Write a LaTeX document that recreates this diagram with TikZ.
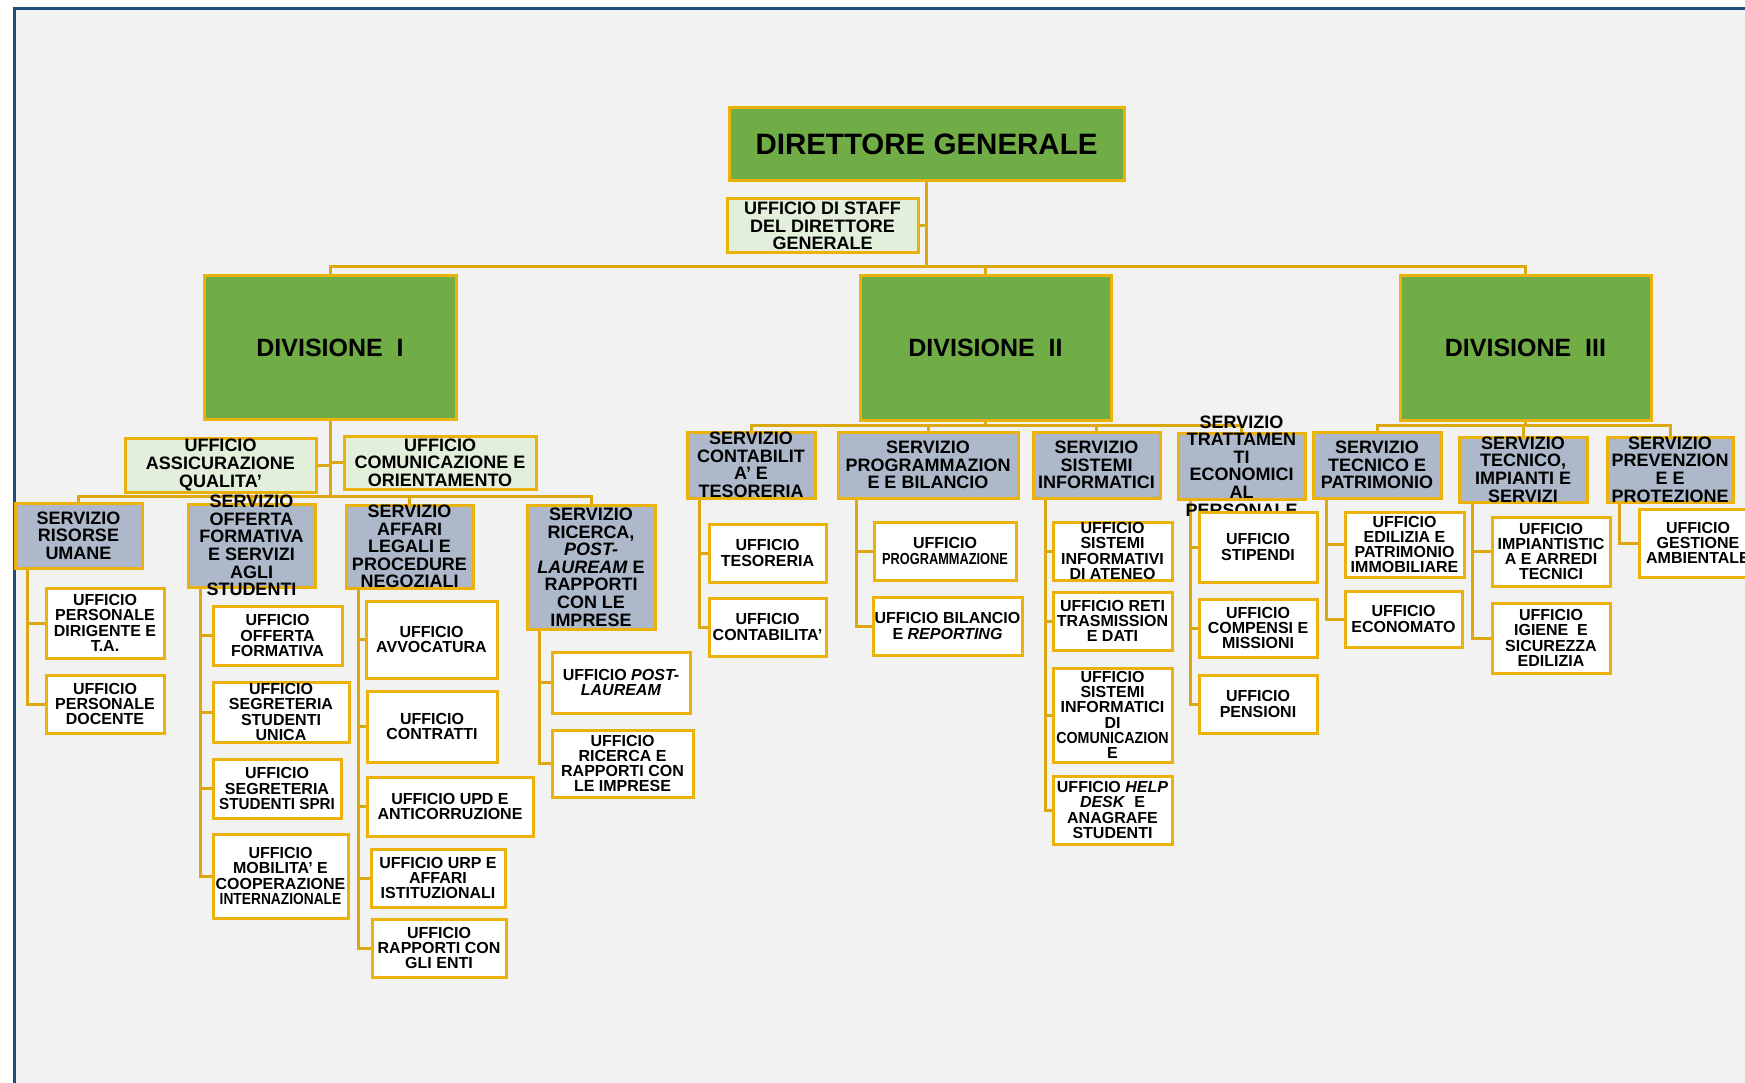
\documentclass[tikz,border=0pt]{standalone}
\usepackage{fontspec}
\setmainfont{Liberation Sans}
\usetikzlibrary{calc}
\definecolor{bgc}{HTML}{F2F2F2}
\definecolor{frameblue}{HTML}{1F4E79}
\definecolor{goldc}{HTML}{EAB20A}
\definecolor{goldl}{HTML}{DCA812}
\definecolor{grn}{HTML}{70AD47}
\definecolor{lgrn}{HTML}{E2EFDA}
\definecolor{gblue}{HTML}{ADB9CA}
\pgfdeclarelayer{back}
\pgfdeclarelayer{lines}
\pgfsetlayers{back,lines,main}
\tikzset{
 boxbase/.style={draw=goldc, line width=3pt, inner sep=0pt, outer sep=0pt, rectangle},
 divbox/.style={boxbase, fill=grn},
 servbox/.style={boxbase, fill=gblue},
 uffbox/.style={boxbase, fill=white},
 lgbox/.style={boxbase, fill=lgrn},
 tbase/.style={inner sep=0pt, align=center, text=black},
 tdg/.style={tbase, font=\bfseries\fontsize{29.5}{31}\selectfont},
 tdiv/.style={tbase, font=\bfseries\fontsize{25}{27}\selectfont},
 tserv/.style={tbase, font=\bfseries\fontsize{18}{17.6}\selectfont},
 tuff/.style={tbase, font=\bfseries\fontsize{16}{15.3}\selectfont},
 conn/.style={draw=goldl, line width=3pt},
}
\newcommand\obox[8]{%
 \node[#2, minimum width={(#6)-(#4)}, minimum height={(#7)-(#5)}] (#1) at ({((#4)+(#6))/2},{((#5)+(#7))/2}) {};
 \node[#3] (#1t) at (#1.center) {#8};
}
\begin{document}
\begin{tikzpicture}[x=1pt,y=-1pt]
\useasboundingbox (0,0) rectangle (1745,1083);
\begin{pgfonlayer}{back}
\fill[white] (0,0) rectangle (1745,1083);
\fill[bgc] (14,9) rectangle (1745,1083);
\draw[frameblue, line width=3pt] (14,1083) -- (14,9) -- (1745,9);
\end{pgfonlayer}

% top level
\obox{dg}{divbox}{tdg}{729}{108}{1124}{181}{DIRETTORE GENERALE}
\obox{staff}{lgbox}{tserv}{727}{199}{918}{253}{UFFICIO DI STAFF\\DEL DIRETTORE\\GENERALE}
\obox{div1}{divbox}{tdiv}{204}{276}{456}{419}{DIVISIONE\ \ I}
\obox{div2}{divbox}{tdiv}{860}{276}{1111}{420}{DIVISIONE\ \ II}
\obox{div3}{divbox}{tdiv}{1400}{276}{1651}{420}{DIVISIONE\ \ III}

% Division I
\obox{uaq}{lgbox}{tserv}{125}{438}{316}{492}{UFFICIO\\ASSICURAZIONE\\QUALITA'}
\obox{uco}{lgbox}{tserv}{344}{436}{536}{489}{UFFICIO\\COMUNICAZIONE E\\ORIENTAMENTO}

\obox{sru}{servbox}{tserv}{15}{503}{142}{568}{SERVIZIO\\RISORSE\\UMANE}
\obox{updir}{uffbox}{tuff}{46}{588}{164}{658}{UFFICIO\\PERSONALE\\DIRIGENTE E\\T.A.}
\obox{updoc}{uffbox}{tuff}{46}{675}{164}{733}{UFFICIO\\PERSONALE\\DOCENTE}

\obox{sof}{servbox}{tserv}{188}{504}{315}{587}{SERVIZIO\\OFFERTA\\FORMATIVA\\E SERVIZI\\AGLI\\STUDENTI}
\obox{uof}{uffbox}{tuff}{213}{606}{342}{665}{UFFICIO\\OFFERTA\\FORMATIVA}
\obox{ussu}{uffbox}{tuff}{213}{682}{349}{742}{UFFICIO\\SEGRETERIA\\STUDENTI\\UNICA}
\obox{usss}{uffbox}{tuff}{213}{759}{341}{818}{UFFICIO\\SEGRETERIA\\\scalebox{0.95}[1]{STUDENTI SPRI}}
\obox{umob}{uffbox}{tuff}{213}{834}{348}{918}{UFFICIO\\MOBILITA' E\\COOPERAZIONE\\\scalebox{0.86}[1]{INTERNAZIONALE}}

\obox{sal}{servbox}{tserv}{346}{505}{473}{588}{SERVIZIO\\AFFARI\\LEGALI E\\PROCEDURE\\NEGOZIALI}
\obox{uavv}{uffbox}{tuff}{366}{601}{497}{678}{UFFICIO\\AVVOCATURA}
\obox{ucon}{uffbox}{tuff}{367}{691}{497}{762}{UFFICIO\\CONTRATTI}
\obox{uupd}{uffbox}{tuff}{367}{777}{533}{836}{UFFICIO UPD E\\ANTICORRUZIONE}
\obox{uurp}{uffbox}{tuff}{371}{849}{505}{907}{UFFICIO URP E\\AFFARI\\ISTITUZIONALI}
\obox{uren}{uffbox}{tuff}{372}{919}{506}{977}{UFFICIO\\RAPPORTI CON\\GLI ENTI}

\obox{sri}{servbox}{tserv}{527}{505}{655}{629}{SERVIZIO\\RICERCA,\\\textit{POST-}\\\textit{LAUREAM} E\\RAPPORTI\\CON LE\\IMPRESE}
\obox{upl}{uffbox}{tuff}{552}{652}{690}{713}{UFFICIO \textit{POST-}\\\textit{LAUREAM}}
\obox{uric}{uffbox}{tuff}{552}{730}{693}{797}{UFFICIO\\RICERCA E\\RAPPORTI CON\\LE IMPRESE}

% Division II
\obox{sct}{servbox}{tserv}{687}{432}{815}{498}{SERVIZIO\\CONTABILIT\\A' E\\TESORERIA}
\obox{utes}{uffbox}{tuff}{709}{524}{826}{582}{UFFICIO\\TESORERIA}
\obox{ucont}{uffbox}{tuff}{709}{598}{826}{656}{UFFICIO\\CONTABILITA'}

\obox{spb}{servbox}{tserv}{838}{432}{1018}{498}{SERVIZIO\\PROGRAMMAZION\\E E BILANCIO}
\obox{uprog}{uffbox}{tuff}{874}{522}{1016}{580}{UFFICIO\\\scalebox{0.8}[1]{PROGRAMMAZIONE}}
\obox{ubil}{uffbox}{tuff}{873}{597}{1022}{655}{UFFICIO BILANCIO\\E \textit{REPORTING}}

\obox{ssi}{servbox}{tserv}{1033}{432}{1160}{498}{SERVIZIO\\SISTEMI\\INFORMATICI}
\obox{usia}{uffbox}{tuff}{1053}{522}{1172}{580}{UFFICIO\\SISTEMI\\INFORMATIVI\\DI ATENEO}
\obox{uret}{uffbox}{tuff}{1053}{592}{1172}{650}{UFFICIO RETI\\TRASMISSION\\E DATI}
\obox{usic}{uffbox}{tuff}{1053}{668}{1172}{762}{UFFICIO\\SISTEMI\\INFORMATICI\\DI\\\scalebox{0.89}[1]{COMUNICAZION}\\E}
\obox{uhd}{uffbox}{tuff}{1053}{776}{1172}{844}{UFFICIO \textit{HELP}\\\textit{DESK}\ \ E\\ANAGRAFE\\STUDENTI}

\obox{step}{servbox}{tserv}{1178}{433}{1305}{499}{SERVIZIO\\TRATTAMEN\\TI\\ECONOMICI\\AL\\PERSONALE}
\obox{usti}{uffbox}{tuff}{1199}{512}{1317}{582}{UFFICIO\\STIPENDI}
\obox{ucm}{uffbox}{tuff}{1199}{599}{1317}{657}{UFFICIO\\COMPENSI E\\MISSIONI}
\obox{upen}{uffbox}{tuff}{1199}{675}{1317}{733}{UFFICIO\\PENSIONI}

% Division III
\obox{stp}{servbox}{tserv}{1313}{432}{1441}{498}{SERVIZIO\\TECNICO E\\PATRIMONIO}
\obox{uedi}{uffbox}{tuff}{1345}{512}{1464}{577}{UFFICIO\\EDILIZIA E\\PATRIMONIO\\IMMOBILIARE}
\obox{ueco}{uffbox}{tuff}{1345}{591}{1462}{647}{UFFICIO\\ECONOMATO}

\obox{stis}{servbox}{tserv}{1459}{437}{1587}{502}{SERVIZIO\\TECNICO,\\IMPIANTI E\\SERVIZI}
\obox{uimp}{uffbox}{tuff}{1492}{517}{1610}{586}{UFFICIO\\IMPIANTISTIC\\A E ARREDI\\TECNICI}
\obox{uig}{uffbox}{tuff}{1492}{603}{1610}{673}{UFFICIO\\IGIENE\ \ E\\SICUREZZA\\EDILIZIA}

\obox{spp}{servbox}{tserv}{1607}{437}{1733}{502}{SERVIZIO\\PREVENZION\\E E\\PROTEZIONE}
\obox{uga}{uffbox}{tuff}{1639}{509}{1757}{577}{UFFICIO\\GESTIONE\\AMBIENTALE}

% connectors
\begin{pgfonlayer}{lines}
\coordinate (ytop) at (0,267);
\coordinate (yd1) at (0,496);
\coordinate (yd2) at (0,425);
\coordinate (yd3) at (0,425);
\draw[conn] (dg.south) -- (dg.south |- ytop);
\draw[conn] (div1.north) |- (div3.north |- ytop) -- (div3.north);
\draw[conn] (div2.north) -- (div2.north |- ytop);
\draw[conn] (staff.east) -- (staff.east -| dg.south);

\draw[conn] (div1.south) -- (div1.south |- yd1);
\draw[conn] (uaq.east) -- (uaq.east -| div1.south);
\draw[conn] (uco.west) -- (uco.west -| div1.south);
\draw[conn] (sru.north) |- (sri.north |- yd1) -- (sri.north);
\draw[conn] (sof.north) -- (sof.north |- yd1);
\draw[conn] (sal.north) -- (sal.north |- yd1);

\draw[conn] (div2.south) -- (div2.south |- yd2);
\draw[conn] (sct.north) |- (step.north |- yd2) -- (step.north);
\draw[conn] (spb.north) -- (spb.north |- yd2);
\draw[conn] (ssi.north) -- (ssi.north |- yd2);

\draw[conn] (div3.south) -- (div3.south |- yd3);
\draw[conn] (stp.north) |- (spp.north |- yd3) -- (spp.north);
\draw[conn] (stis.north) -- (stis.north |- yd3);

\coordinate (srutr) at ($(sru.south west)+(12,0)$);
\coordinate (softr) at ($(sof.south west)+(12,0)$);
\coordinate (saltr) at ($(sal.south west)+(12,0)$);
\coordinate (sritr) at ($(sri.south west)+(12,0)$);
\coordinate (scttr) at ($(sct.south west)+(12,0)$);
\coordinate (spbtr) at ($(spb.south west)+(18,0)$);
\coordinate (ssitr) at ($(ssi.south west)+(12,0)$);
\coordinate (steptr) at ($(step.south west)+(12,0)$);
\coordinate (stptr) at ($(stp.south west)+(13,0)$);
\coordinate (stistr) at ($(stis.south west)+(13,0)$);
\coordinate (spptr) at ($(spp.south west)+(12,0)$);

\draw[conn] (srutr) |- (updir.west) (srutr) |- (updoc.west);
\draw[conn] (softr) |- (uof.west) (softr) |- (ussu.west) (softr) |- (usss.west) (softr) |- (umob.west);
\draw[conn] (saltr) |- (uavv.west) (saltr) |- (ucon.west) (saltr) |- (uupd.west) (saltr) |- (uurp.west) (saltr) |- (uren.west);
\draw[conn] (sritr) |- (upl.west) (sritr) |- (uric.west);
\draw[conn] (scttr) |- (utes.west) (scttr) |- (ucont.west);
\draw[conn] (spbtr) |- (uprog.west) (spbtr) |- (ubil.west);
\draw[conn] (ssitr) |- (usia.west) (ssitr) |- (uret.west) (ssitr) |- (usic.west) (ssitr) |- (uhd.west);
\draw[conn] (steptr) |- (usti.west) (steptr) |- (ucm.west) (steptr) |- (upen.west);
\draw[conn] (stptr) |- (uedi.west) (stptr) |- (ueco.west);
\draw[conn] (stistr) |- (uimp.west) (stistr) |- (uig.west);
\draw[conn] (spptr) |- (uga.west);
\end{pgfonlayer}
\end{tikzpicture}
\end{document}
